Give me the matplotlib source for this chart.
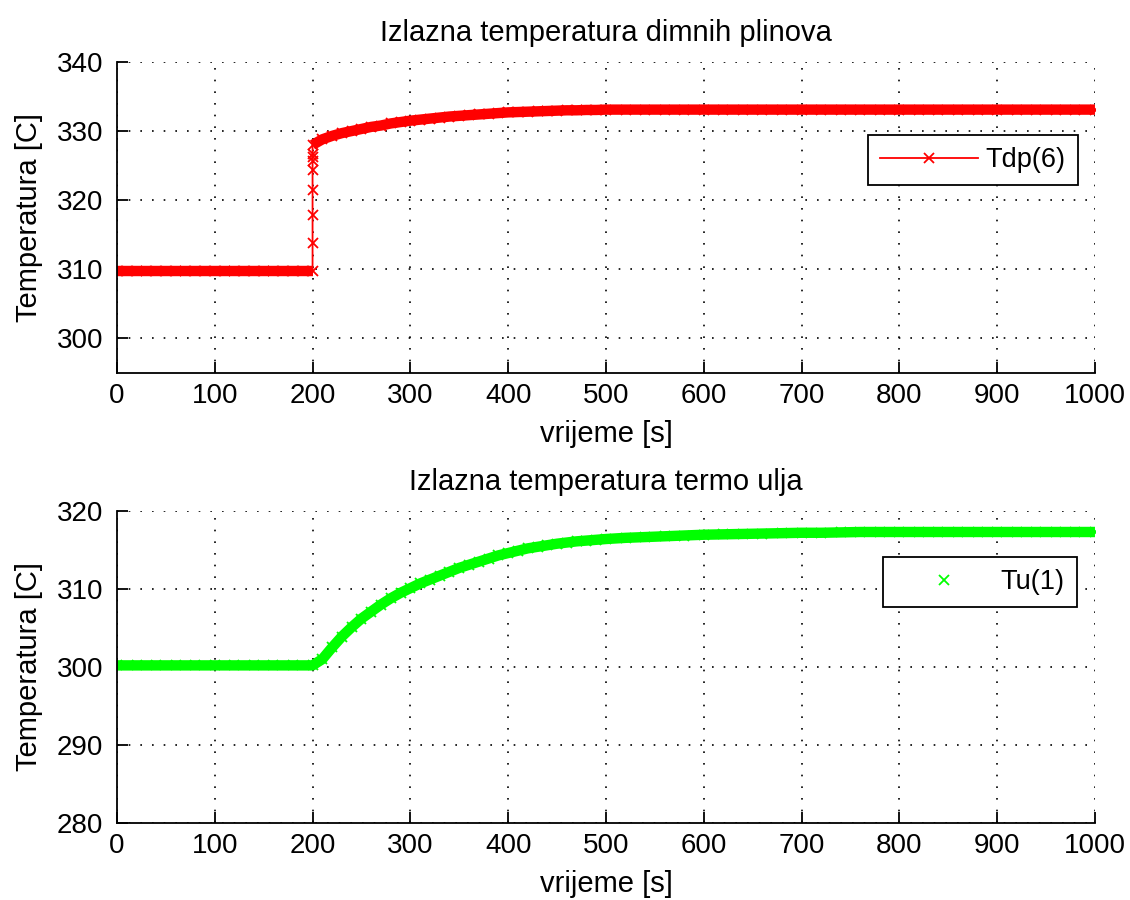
#!/usr/bin/env python3
import matplotlib
matplotlib.use("Agg")
import matplotlib.pyplot as plt

# Tdp(6) - izlazna temperatura dimnih plinova (jump at t=200)
t_red_pre = list(range(0, 201, 10))
T_red_pre = [309.7] * 21
t_red_jump = [200] * 7
T_red_jump = [313.8, 317.9, 321.4, 324.3, 325.7, 326.2, 326.7]
t_red_post = list(range(200, 501, 10)) + list(range(520, 1001, 20))
T_red_post = [328.0, 328.8, 329.3, 329.7, 330.0, 330.3, 330.6, 330.8, 331.1, 331.3,
              331.5, 331.65, 331.8, 331.95, 332.1, 332.2, 332.3, 332.4, 332.5, 332.6,
              332.7, 332.75, 332.8, 332.85, 332.9, 332.95, 333.0, 333.0, 333.05, 333.05,
              333.1] + [333.1] * 25

# Tu(1) - izlazna temperatura termo ulja
t_green = list(range(0, 201, 20)) + list(range(210, 501, 10)) + list(range(520, 1001, 20))
T_green = [300.2] * 11 + \
          [301.0, 302.5, 303.9, 305.1, 306.2, 307.1, 308.0, 308.8, 309.5, 310.1,
           310.7, 311.2, 311.7, 312.2, 312.7, 313.1, 313.5, 313.9, 314.3, 314.6,
           314.9, 315.2, 315.4, 315.6, 315.8, 315.95, 316.1, 316.2, 316.3, 316.4] + \
          [316.55, 316.65, 316.75, 316.85, 316.95, 317.0, 317.05, 317.1, 317.15, 317.2,
           317.2, 317.25] + [317.3] * 13

x_ticks = list(range(0, 1001, 100))
plt.rcParams['font.family'] = ['Liberation Sans', 'DejaVu Sans']
fs_tick = 20
fs_lab = 21
fs_leg = 19.5

fig = plt.figure(figsize=(11.3, 9), dpi=100)
ax1 = fig.add_axes([0.1035, 0.5856, 0.8655, 0.3456])
ax2 = fig.add_axes([0.1035, 0.0856, 0.8655, 0.3467])

red = (1, 0, 0)
green = (0, 1, 0)

t_red = t_red_pre + t_red_jump + t_red_post
T_red = T_red_pre + T_red_jump + T_red_post

# thick band made by the dense markers in the original
ax1.plot(t_red_pre, T_red_pre, color=red, lw=7.5, solid_capstyle='butt')
ax1.plot(t_red_post, T_red_post, color=red, lw=7.5, solid_capstyle='butt')
ax1.plot(t_red, T_red, '-x', color=red, lw=1.3, ms=7, mew=1.3, label='Tdp(6)')

ax2.plot(t_green, T_green, color=green, lw=7.5, solid_capstyle='butt')
ax2.plot(t_green, T_green, 'x', color=green, ms=7, mew=1.3, label='Tu(1)')

for ax, ylim, yt, title in [(ax1, (295, 340), range(300, 341, 10), 'Izlazna temperatura dimnih plinova'),
                            (ax2, (280, 320), range(280, 321, 10), 'Izlazna temperatura termo ulja')]:
    ax.set_xlim(0, 1000)
    ax.set_ylim(*ylim)
    ax.set_xticks(x_ticks)
    ax.set_yticks(list(yt))
    ax.grid(True, color='black', linestyle=(0, (1, 6)), linewidth=1.2)
    ax.spines['top'].set_visible(False)
    ax.spines['right'].set_visible(False)
    for s in ('left', 'bottom'):
        ax.spines[s].set_linewidth(1.3)
    ax.tick_params(direction='in', length=8, width=1.3, labelsize=fs_tick)
    ax.tick_params(axis='x', pad=7)
    ax.tick_params(axis='y', pad=10)
    ax.set_title(title, fontsize=fs_lab, pad=15)
    ax.set_xlabel('vrijeme [s]', fontsize=fs_lab, labelpad=8)
    ax.set_ylabel('Temperatura [C]', fontsize=fs_lab, labelpad=10)

leg1 = ax1.legend(loc='upper right', bbox_to_anchor=(0.9826, 0.7653), borderaxespad=0,
                  fontsize=fs_leg, handlelength=3.6, handletextpad=0.3, borderpad=0.45,
                  fancybox=False, framealpha=1, edgecolor='black')
leg1.get_frame().set_linewidth(1.3)
leg2 = ax2.legend(loc='upper right', bbox_to_anchor=(0.9816, 0.8526), borderaxespad=0,
                  fontsize=fs_leg, handlelength=3.6, handletextpad=0.3, borderpad=0.45,
                  fancybox=False, framealpha=1, edgecolor='black')
leg2.get_frame().set_linewidth(1.3)

fig.savefig('out.png', dpi=100)
